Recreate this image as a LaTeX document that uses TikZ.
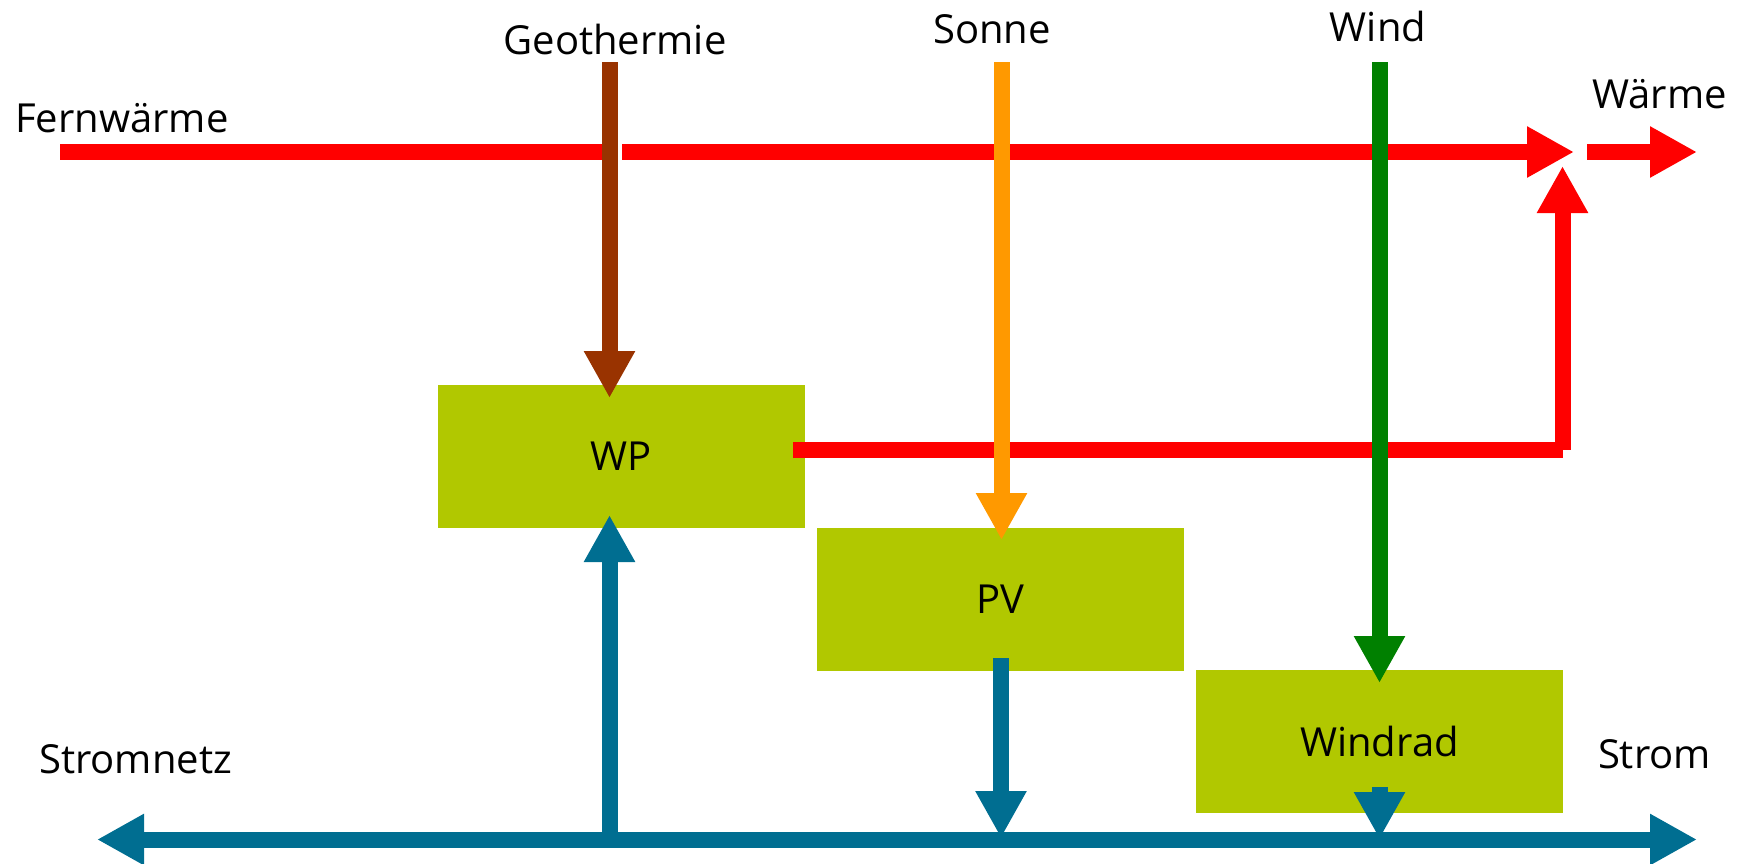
\documentclass[tikz,border=0pt]{standalone}
\usepackage{fontspec}
\setmainfont{Open Sans}
\usetikzlibrary{arrows.meta}
\definecolor{cred}{RGB}{255,0,0}
\definecolor{cbrown}{RGB}{153,51,0}
\definecolor{corange}{RGB}{255,153,0}
\definecolor{cgreen}{RGB}{0,128,0}
\definecolor{cblue}{RGB}{0,110,145}
\definecolor{cbox}{RGB}{177,200,0}
\begin{document}
\begin{tikzpicture}[x=1pt,y=-1pt,
  lbl/.style={inner sep=0pt, font=\fontsize{40}{48}\selectfont},
  boxnode/.style={fill=cbox, minimum width=367pt, minimum height=143pt, inner sep=0pt, font=\fontsize{40}{48}\selectfont},
  flow/.style={line width=16pt},
  flowtip/.style={-{Triangle[width=48pt,length=47pt]}},
  bothtip/.style={{Triangle[width=48pt,length=47pt]}-{Triangle[width=48pt,length=47pt]}}
]
\useasboundingbox (0,0) rectangle (1746,863);

% labels
\node[lbl, anchor=base west] (fernw) at (15,132) {Fernwärme};
\node[lbl, anchor=base] (geo) at (615,54) {Geothermie};
\node[lbl, anchor=base] (sonne) at (992,43) {Sonne};
\node[lbl, anchor=base] (wind) at (1378,41) {Wind};
\node[lbl, anchor=base] (waerme) at (1659.5,108) {Wärme};
\node[lbl, anchor=base west] (netz) at (39,773) {Stromnetz};
\node[lbl, anchor=base] (strom) at (1654.5,768) {Strom};

% boxes
\node[boxnode] (wp) at (621.5,456.5) {WP};
\node[boxnode] (pv) at (1000,599.5) {PV};
\node[boxnode] (wr) at (1379.5,741.5) {Windrad};

% coordinates
\coordinate (fwA) at (60,152);
\coordinate (fwB) at (609.5,152);
\coordinate (fwC) at (622,152);
\coordinate (fwD) at (1574,152);
\coordinate (wmA) at (1587,152);
\coordinate (wmB) at (1697,152);
\coordinate (wpOut) at (793,450);
\coordinate (corner) at (1562.5,450);
\coordinate (riserTip) at (1562.5,166);
\coordinate (geoTop) at (609.5,62);
\coordinate (geoTip) at (609.5,398);
\coordinate (sonTop) at (1001.5,62);
\coordinate (sonTip) at (1001.5,540);
\coordinate (winTop) at (1379.5,62);
\coordinate (winTip) at (1379.5,683);
\coordinate (busL) at (97,839.5);
\coordinate (busR) at (1697,839.5);
\coordinate (wpBus) at (609.5,839.5);
\coordinate (wpIn) at (609.5,515);
\coordinate (pvOut) at (1001,658);
\coordinate (pvBus) at (1001,838);
\coordinate (wrOut) at (1379.5,787);
\coordinate (wrBus) at (1379.5,839);

% red heat lines
\draw[flow, cred] (fwA) -- (fwB);
\draw[flow, cred, flowtip] (fwC) -- (fwD);
\draw[flow, cred, flowtip] (wmA) -- (wmB);
\draw[flow, cred] (wpOut) -- (corner);
\draw[flow, cred, flowtip] (corner) -- (riserTip);

% sources
\draw[flow, cbrown, flowtip] (geoTop) -- (geoTip);
\draw[flow, corange, flowtip] (sonTop) -- (sonTip);
\draw[flow, cgreen, flowtip] (winTop) -- (winTip);

% electricity
\draw[flow, cblue, bothtip] (busL) -- (busR);
\draw[flow, cblue, flowtip] (wpBus) -- (wpIn);
\draw[flow, cblue, flowtip] (pvOut) -- (pvBus);
\draw[flow, cblue, flowtip] (wrOut) -- (wrBus);
\end{tikzpicture}
\end{document}
